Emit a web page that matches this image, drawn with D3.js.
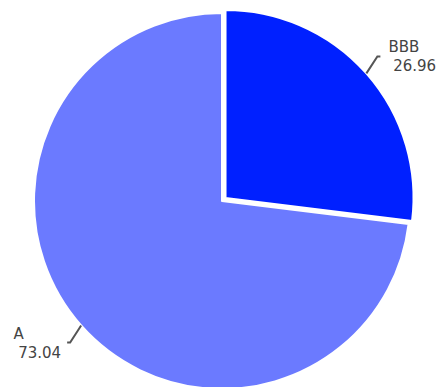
<!DOCTYPE html>
<html>
<head>
<meta charset="utf-8">
<script src="https://cdn.jsdelivr.net/npm/d3@7"></script>
<style>
  body { margin: 0; background: #fff; }
  svg { display: block; }
  .label text { font-family: "DejaVu Sans", Verdana, sans-serif; font-size: 15px; fill: #444; }
</style>
</head>
<body>
<svg></svg>
<script>
// data
const categories = ["BBB", "A"];
const values = [26.96, 73.04];
const colors = ["#0020ff", "#6b7aff"];
const exploded = ["BBB"];

const width = 439, height = 387;
const cx = 222, cy = 201, radius = 188;
const explodeDist = 4.7;

const svg = d3.select("svg")
    .attr("width", width)
    .attr("height", height);

const g = svg.append("g")
    .attr("transform", `translate(${cx}, ${cy})`);

const data = categories.map((c, i) => ({ name: c, value: values[i], color: colors[i] }));

const pie = d3.pie()
    .sort(null)
    .value(d => d.value);

const arc = d3.arc()
    .innerRadius(0)
    .outerRadius(radius);

const arcs = pie(data);

// offset of a slice (exploded ones move out along their mid angle)
function offset(d) {
    if (!exploded.includes(d.data.name)) return [0, 0];
    const a = (d.startAngle + d.endAngle) / 2;
    return [Math.sin(a) * explodeDist, -Math.cos(a) * explodeDist];
}

g.selectAll("path.slice")
    .data(arcs)
    .enter()
    .append("path")
    .attr("class", "slice")
    .attr("d", arc)
    .attr("fill", d => d.data.color)
    .attr("stroke", "#fff")
    .attr("stroke-width", 2)
    .attr("stroke-linejoin", "round")
    .attr("transform", d => `translate(${offset(d)})`);

// labels with leader lines
const labels = g.selectAll("g.label")
    .data(arcs)
    .enter()
    .append("g")
    .attr("class", "label");

labels.each(function(d) {
    const a = (d.startAngle + d.endAngle) / 2;
    const [ox, oy] = offset(d);
    const sx = Math.sin(a) >= 0 ? 1 : -1;
    const sy = -Math.cos(a) >= 0 ? 1 : -1;
    const p1 = [Math.sin(a) * radius + ox, -Math.cos(a) * radius + oy];
    const p2 = [p1[0] + sx * 11, p1[1] + sy * 17];
    const p3 = [p2[0] + sx * 3, p2[1]];

    const grp = d3.select(this);
    grp.append("polyline")
        .attr("points", [p1, p2, p3].map(p => p.join(",")).join(" "))
        .attr("fill", "none")
        .attr("stroke", "#555")
        .attr("stroke-width", 2);

    const text = grp.append("text");

    const t1 = text.append("tspan").attr("y", p3[1] - 4).text(d.data.name);
    const t2 = text.append("tspan").attr("y", p3[1] + 15)
        .text("\u00a0" + d.data.value.toFixed(2));

    let x;
    if (sx > 0) {
        x = p3[0] + 8;
    } else {
        const w = Math.max(t1.node().getComputedTextLength(), t2.node().getComputedTextLength());
        x = p3[0] - 6 - w;
    }
    t1.attr("x", x);
    t2.attr("x", x);
});
</script>
</body>
</html>
